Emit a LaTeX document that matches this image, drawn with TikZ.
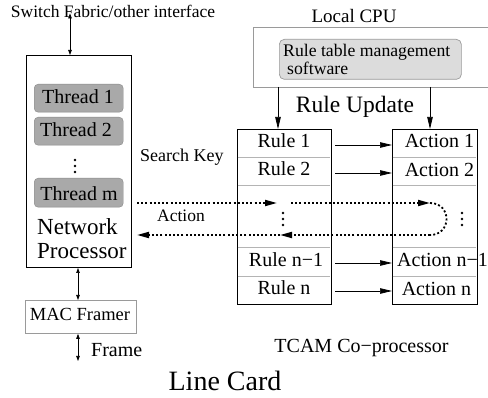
\documentclass[tikz,border=0pt]{standalone}
\usepackage{fontspec}
\setmainfont{Liberation Serif}
\usetikzlibrary{arrows.meta}
\definecolor{thrgray}{HTML}{A9A9A9}
\definecolor{boxgray}{HTML}{9A9A9A}
\definecolor{softgray}{HTML}{DCDCDC}
\definecolor{sepgray}{HTML}{B4B4B4}
\begin{document}
\begin{tikzpicture}[x=1pt,y=-1pt,
  sz/.style={font=\fontsize{#1pt}{#1pt}\selectfont, inner sep=0pt},
  blk/.style={draw=black, line width=1pt},
  tbl/.style={draw=black, line width=1.4pt},
  threadbox/.style={fill=thrgray, draw=thrgray!80!black, line width=0.4pt, rounded corners=4pt},
  rowbox/.style={minimum width=94pt, minimum height=28pt, inner sep=0pt, text height=14pt, text depth=4pt, font=\fontsize{20pt}{20pt}\selectfont},
  dbl/.style={line width=0.7pt, {Triangle[length=5pt,width=3.5pt]}-{Triangle[length=5pt,width=3.5pt]}},
  arr/.style={line width=0.7pt, -{Triangle[length=12pt,width=5.5pt]}},
  dotl/.style={line width=1.8pt, dash pattern=on 2pt off 2.2pt, -{Triangle[length=12pt,width=6pt]}},
  dotn/.style={line width=1.8pt, dash pattern=on 2pt off 2.2pt},
  vdot/.style={circle, fill=black, inner sep=0pt, minimum size=2.6pt}
]
\useasboundingbox (0,0) rectangle (488,398);

% ---------- left side ----------
\node[sz=17.5, anchor=base] (sf) at (113,18) {Switch Fabric/other interface};
\node[blk, minimum width=105pt, minimum height=212pt, anchor=north west, inner sep=0pt] (np) at (26,55) {};
\coordinate (x70) at (70,0);
\coordinate (x78) at (78,0);
\draw[dbl] ([yshift=5pt]sf.south -| x70) -- (np.north -| x70);

\node[threadbox, minimum width=89pt, minimum height=28pt, anchor=north west, inner sep=0pt] (t1) at (34,84) {};
\node[sz=20, anchor=base] (t1l) at (78,104) {Thread 1};
\node[threadbox, minimum width=89pt, minimum height=28pt, anchor=north west, inner sep=0pt] (t2) at (34,117) {};
\node[sz=20, anchor=base] (t2l) at (76,137) {Thread 2};
\node[vdot] (nd1) at (75,160) {};
\node[vdot] (nd2) at (75,166) {};
\node[vdot] (nd3) at (75,172) {};
\node[threadbox, minimum width=89pt, minimum height=29pt, anchor=north west, inner sep=0pt] (tm) at (34,178) {};
\node[sz=20, anchor=base] (tml) at (79,201) {Thread m};

\node[sz=23, anchor=base west] (npl1) at (37,235) {Network};
\node[sz=23, anchor=base west] (npl2) at (37,259) {Processor};

\node[draw=boxgray, line width=0.8pt, minimum width=111pt, minimum height=33pt, anchor=north west, inner sep=0pt] (mac) at (25,300) {};
\node[sz=18.5, anchor=base] (macl) at (80,321) {MAC Framer};
\draw[dbl] (np.south -| x78) -- (mac.north -| x78);
\coordinate (fr) at (78,361);
\draw[dbl] (mac.south -| x78) -- (fr);
\node[sz=20, anchor=base west] (frl) at (91,357) {Frame};

\node[sz=28, anchor=base] (lc) at (225,391) {Line Card};

% ---------- local CPU ----------
\node[sz=19, anchor=base] (cpul) at (354,23) {Local CPU};
\draw[draw=boxgray, line width=0.7pt] (490,27) -- (253,27) -- (253,87) -- (490,87);
\coordinate (cpuS1) at (278,87);
\coordinate (cpuS2) at (430,87);
\node[draw=boxgray, fill=softgray, line width=0.7pt, rounded corners=5pt, minimum width=182pt, minimum height=40pt, anchor=north west, inner sep=0pt] (rtm) at (279,39) {};
\node[sz=17.7, anchor=base west] (rtm1) at (283,57) {Rule table management};
\node[sz=17.7, anchor=base west] (rtm2) at (287,75) {software};
\node[sz=23.5, anchor=base] (ru) at (355,113) {Rule Update};

% ---------- TCAM tables ----------
\node[tbl, minimum width=94pt, minimum height=175pt, anchor=north west, inner sep=0pt] (rt) at (237,129) {};
\node[tbl, minimum width=85pt, minimum height=175pt, anchor=north west, inner sep=0pt] (at) at (392,129) {};
\draw[arr] (cpuS1) -- (cpuS1 |- rt.north);
\draw[arr] (cpuS2) -- (cpuS2 |- at.north);

\foreach \yy in {157,185,247,276}{
  \draw[sepgray, line width=0.9pt] (237.7,\yy) -- (330.3,\yy);
  \draw[sepgray, line width=0.9pt] (392.7,\yy) -- (476.3,\yy);
}

\node[rowbox] (r1) at (284,143) {Rule 1};
\node[rowbox] (r2) at (284,171) {Rule 2};
\node[rowbox] (r3) at (286,261.5) {Rule n−1};
\node[rowbox] (r4) at (284,290) {Rule n};
\node[vdot] (rd1) at (283,213) {};
\node[vdot] (rd2) at (283,219) {};
\node[vdot] (rd3) at (283,225) {};

\node[sz=20, anchor=base] (a1) at (439.5,148) {Action 1};
\node[sz=20, anchor=base] (a2) at (439.5,177) {Action 2};
\node[sz=20, anchor=base west] (a3) at (397,267) {Action n−1};
\node[sz=20, anchor=base] (a4) at (436.5,296) {Action n};
\node[vdot] (ad1) at (462,213) {};
\node[vdot] (ad2) at (462,219) {};
\node[vdot] (ad3) at (462,225) {};

\coordinate (rE) at (335,0);
\foreach \r/\yy in {1/145,2/173,3/263,4/291}{
  \draw[arr] (rE |- 0,\yy) -- (at.west |- 0,\yy);
}

\node[sz=18, anchor=base west] (skl) at (140,162) {Search Key};
\node[sz=17.5, anchor=base west] (acl) at (157,222) {Action};
\node[sz=20, anchor=base] (tc) at (361.5,353) {TCAM Co−processor};

% ---------- dotted search key / action ----------
\coordinate (u0) at (137,203);
\coordinate (u1) at (277,203);
\coordinate (u2) at (291,203);
\coordinate (u3) at (430,203);
\coordinate (l3) at (430,235);
\coordinate (l1) at (280,235);
\coordinate (l0) at (137,235);
\draw[dotl] (u0) -- (u1);
\draw[dotl] (u2) -- (u3);
\draw[dotn] (u3) .. controls (452,203) and (452,235) .. (l3);
\draw[dotl] (l3) -- (l1);
\draw[dotl] (l1) -- (l0);
\end{tikzpicture}
\end{document}
